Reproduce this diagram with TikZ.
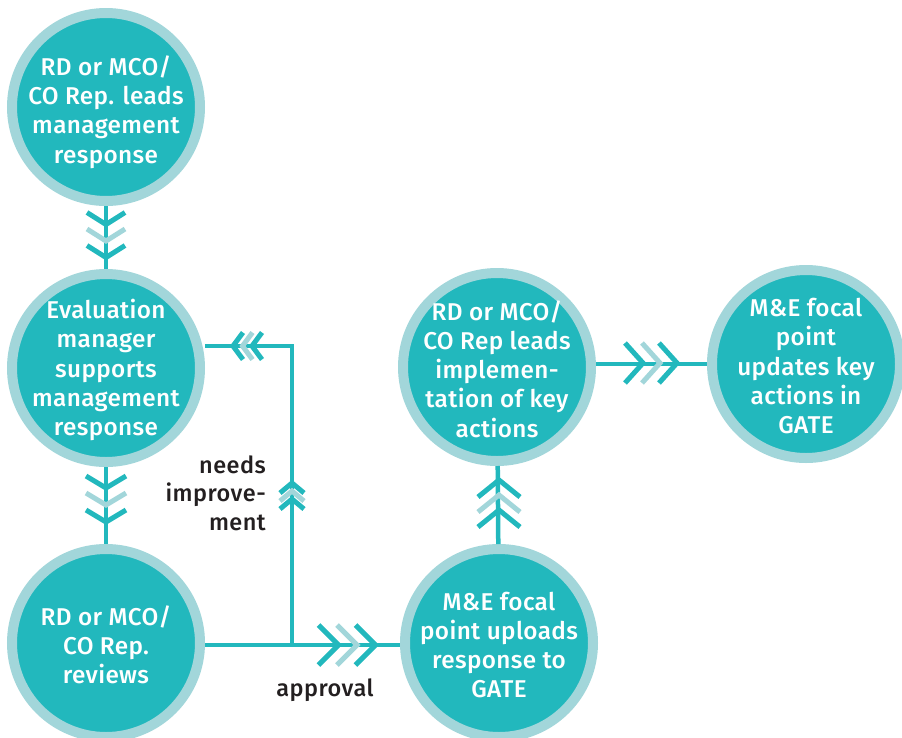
\documentclass[tikz,border=0pt]{standalone}
\usepackage{fontspec}
\setmainfont{Fira Sans}[UprightFont={* Medium}]
\definecolor{teal1}{HTML}{22B8BD}
\definecolor{ring1}{HTML}{A2D6DA}
\definecolor{ink}{HTML}{231F20}
\tikzset{
  circ/.style={circle, draw=ring1, fill=teal1, line width=10pt, minimum size=188pt, inner sep=0pt},
  txt/.style={text=white, align=center, font=\fontsize{24.3}{29.3}\selectfont\addfontfeature{LetterSpace=1.5}, inner sep=0pt},
  lbl/.style={text=ink, font=\fontsize{23.5}{28.5}\selectfont\addfontfeature{LetterSpace=2}, inner sep=0pt},
  conn/.style={draw=teal1, line width=4.5pt},
  chev/.style={line width=5pt, line cap=butt, line join=miter},
  pics/chevs/.style n args={3}{code={
    \draw[chev, draw=ring1] (-#2,-#1) -- (0,0) -- (-#2,#1);
    \draw[chev, draw=teal1] (-#3-#2,-#1) -- (-#3,0) -- (-#3-#2,#1);
    \draw[chev, draw=teal1] (#3-#2,-#1) -- (#3,0) -- (#3-#2,#1);
  }}
}
\begin{document}
\begin{tikzpicture}[x=1pt, y=-1pt]
\useasboundingbox (0,0) rectangle (902,737);
% circles
\node[circ] (n1) at (106,107) {};
\node[circ] (n2) at (106,368) {};
\node[circ] (n3) at (106,643) {};
\node[circ] (n4) at (499,643) {};
\node[circ] (n5) at (497,367) {};
\node[circ] (n6) at (806,364) {};
% texts
\node[txt] at ([yshift=-5pt]n1) {RD or MCO/\\CO Rep. leads\\management\\response};
\node[txt] at ([yshift=-2pt]n2) {Evaluation\\manager\\supports\\management\\response};
\node[txt] at ([yshift=-2pt]n3) {RD or MCO/\\CO Rep.\\reviews};
\node[txt] at ([yshift=-2pt]n4) {M\&E focal\\point uploads\\response to\\GATE};
\node[txt] at ([yshift=-2pt]n5) {RD or MCO/\\CO Rep leads\\implemen-\\tation of key\\actions};
\node[txt] at ([yshift=-2pt]n6) {M\&E focal\\point\\updates key\\actions in\\GATE};
% connectors
\coordinate (j) at (292,645);
\coordinate (k) at (292,346);
\draw[conn] (n1) -- (n2);
\draw[conn] (n2) -- (n3);
\draw[conn] (n3.east |- j) -- (n4.west |- j);
\draw[conn] (n4) -- (n5);
\draw[conn] (n5.east |- n6) -- (n6);
\draw[conn] (j) -- (k) -- (n2.east |- k);
% chevrons
\pic[rotate=-90] at (106,241) {chevs={19}{12}{16.5}};
\pic[rotate=-90] at (106,505) {chevs={20}{12}{17}};
\pic[rotate=90] at (499,495) {chevs={21}{17}{15}};
\pic at (660,363) {chevs={20}{18}{17}};
\pic at (357,645) {chevs={20}{20}{18.5}};
\pic[rotate=180] at (242.5,346) {chevs={13.5}{10}{9.5}};
\pic[rotate=90] at (292,491) {chevs={12}{10}{8}};
% labels
\node[lbl, align=right, anchor=east] at (266,493) {needs\\improve-\\ment};
\node[lbl] at (325,690) {approval};
\end{tikzpicture}
\end{document}
